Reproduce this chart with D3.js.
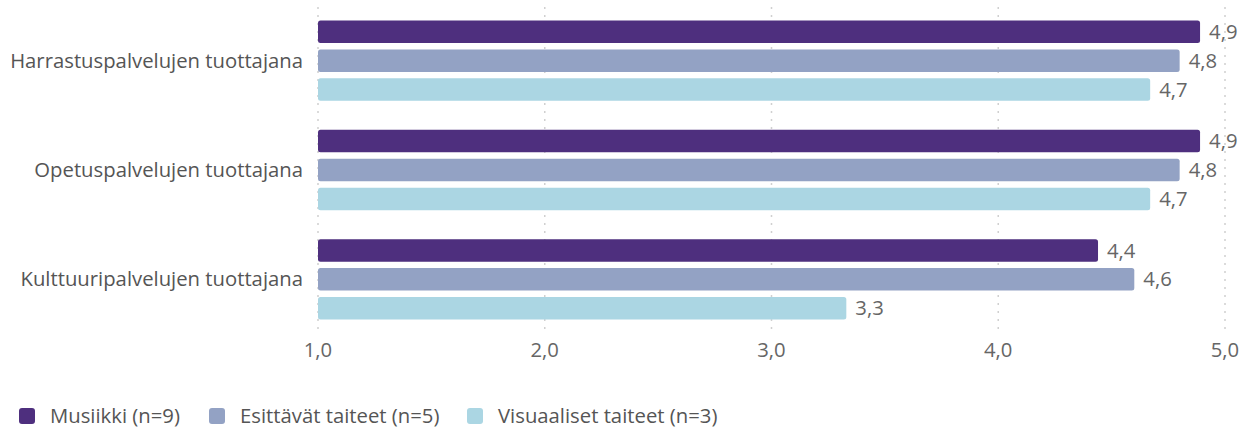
<!DOCTYPE html>
<html><head><meta charset="utf-8">
<script src="https://cdn.jsdelivr.net/npm/d3@7"></script>
<style>body{margin:0;background:#fff;} svg{display:block;}</style>
</head><body>
<svg id="c" width="1249" height="432"></svg>
<script>
const categories = ["Harrastuspalvelujen tuottajana","Opetuspalvelujen tuottajana","Kulttuuripalvelujen tuottajana"];
const seriesNames = ["Musiikki (n=9)","Esittävät taiteet (n=5)","Visuaaliset taiteet (n=3)"];
const musiikki = [4.89, 4.89, 4.44];
const esittavat = [4.8, 4.8, 4.6];
const visuaaliset = [4.67, 4.67, 3.33];
const tickValues = [1, 2, 3, 4, 5];
const colors = ["#4e2f7e", "#93a2c4", "#abd6e3"];

(function(){
const series = [musiikki, esittavat, visuaaliset];
const svg = d3.select("#c");
const font = "'Open Sans', sans-serif";
const fs = 20.3;
const pl = 318, pr = 1225, pt = 6, pb = 334;

const x = d3.scaleLinear().domain([1,5]).range([pl,pr]);
const y0 = d3.scaleBand().domain(categories).range([pt,pb]).paddingInner(0).paddingOuter(0);
const y1 = d3.scaleBand().domain([0,1,2]).range([0,y0.bandwidth()]).paddingInner(0.22).paddingOuter(0.5);

// grid
svg.append("g").selectAll("line").data(tickValues).join("line")
  .attr("x1",d=>x(d)).attr("x2",d=>x(d)).attr("y1",pt+1).attr("y2",pb)
  .attr("stroke","#d0d0d0").attr("stroke-width",1.5).attr("stroke-dasharray","2,6");

// bars
const g = svg.append("g");
categories.forEach((c,ci)=>{
  series.forEach((s,si)=>{
    const v = s[ci];
    const yy = y0(c)+y1(si);
    g.append("rect").attr("x",x(1)).attr("y",yy).attr("width",x(v)-x(1)).attr("height",y1.bandwidth())
      .attr("rx",2.5).attr("fill",colors[si]);
    g.append("text").attr("x",x(v)+9).attr("y",yy+y1.bandwidth()/2).attr("dy","0.35em")
      .attr("font-family",font).attr("font-size",fs).attr("fill","#666")
      .text(d3.format(".1f")(v).replace(".",","));
  });
});

// category labels
svg.append("g").selectAll("text").data(categories).join("text")
  .attr("x",pl-15).attr("y",d=>y0(d)+y0.bandwidth()/2).attr("dy","0.35em")
  .attr("text-anchor","end").attr("font-family",font).attr("font-size",fs).attr("fill","#555")
  .text(d=>d);

// x tick labels
svg.append("g").selectAll("text").data(tickValues).join("text")
  .attr("x",d=>x(d)).attr("y",357).attr("text-anchor","middle")
  .attr("font-family",font).attr("font-size",fs).attr("fill","#666")
  .text(d=>d3.format(".1f")(d).replace(".",","));

// legend
const legX = [19, 209, 467];
const lg = svg.append("g");
seriesNames.forEach((n,i)=>{
  lg.append("rect").attr("x",legX[i]).attr("y",408).attr("width",16).attr("height",16).attr("rx",3).attr("fill",colors[i]);
  lg.append("text").attr("x",legX[i]+31).attr("y",423)
    .attr("font-family",font).attr("font-size",fs).attr("fill","#555").text(n);
});
})();
</script>
</body></html>
